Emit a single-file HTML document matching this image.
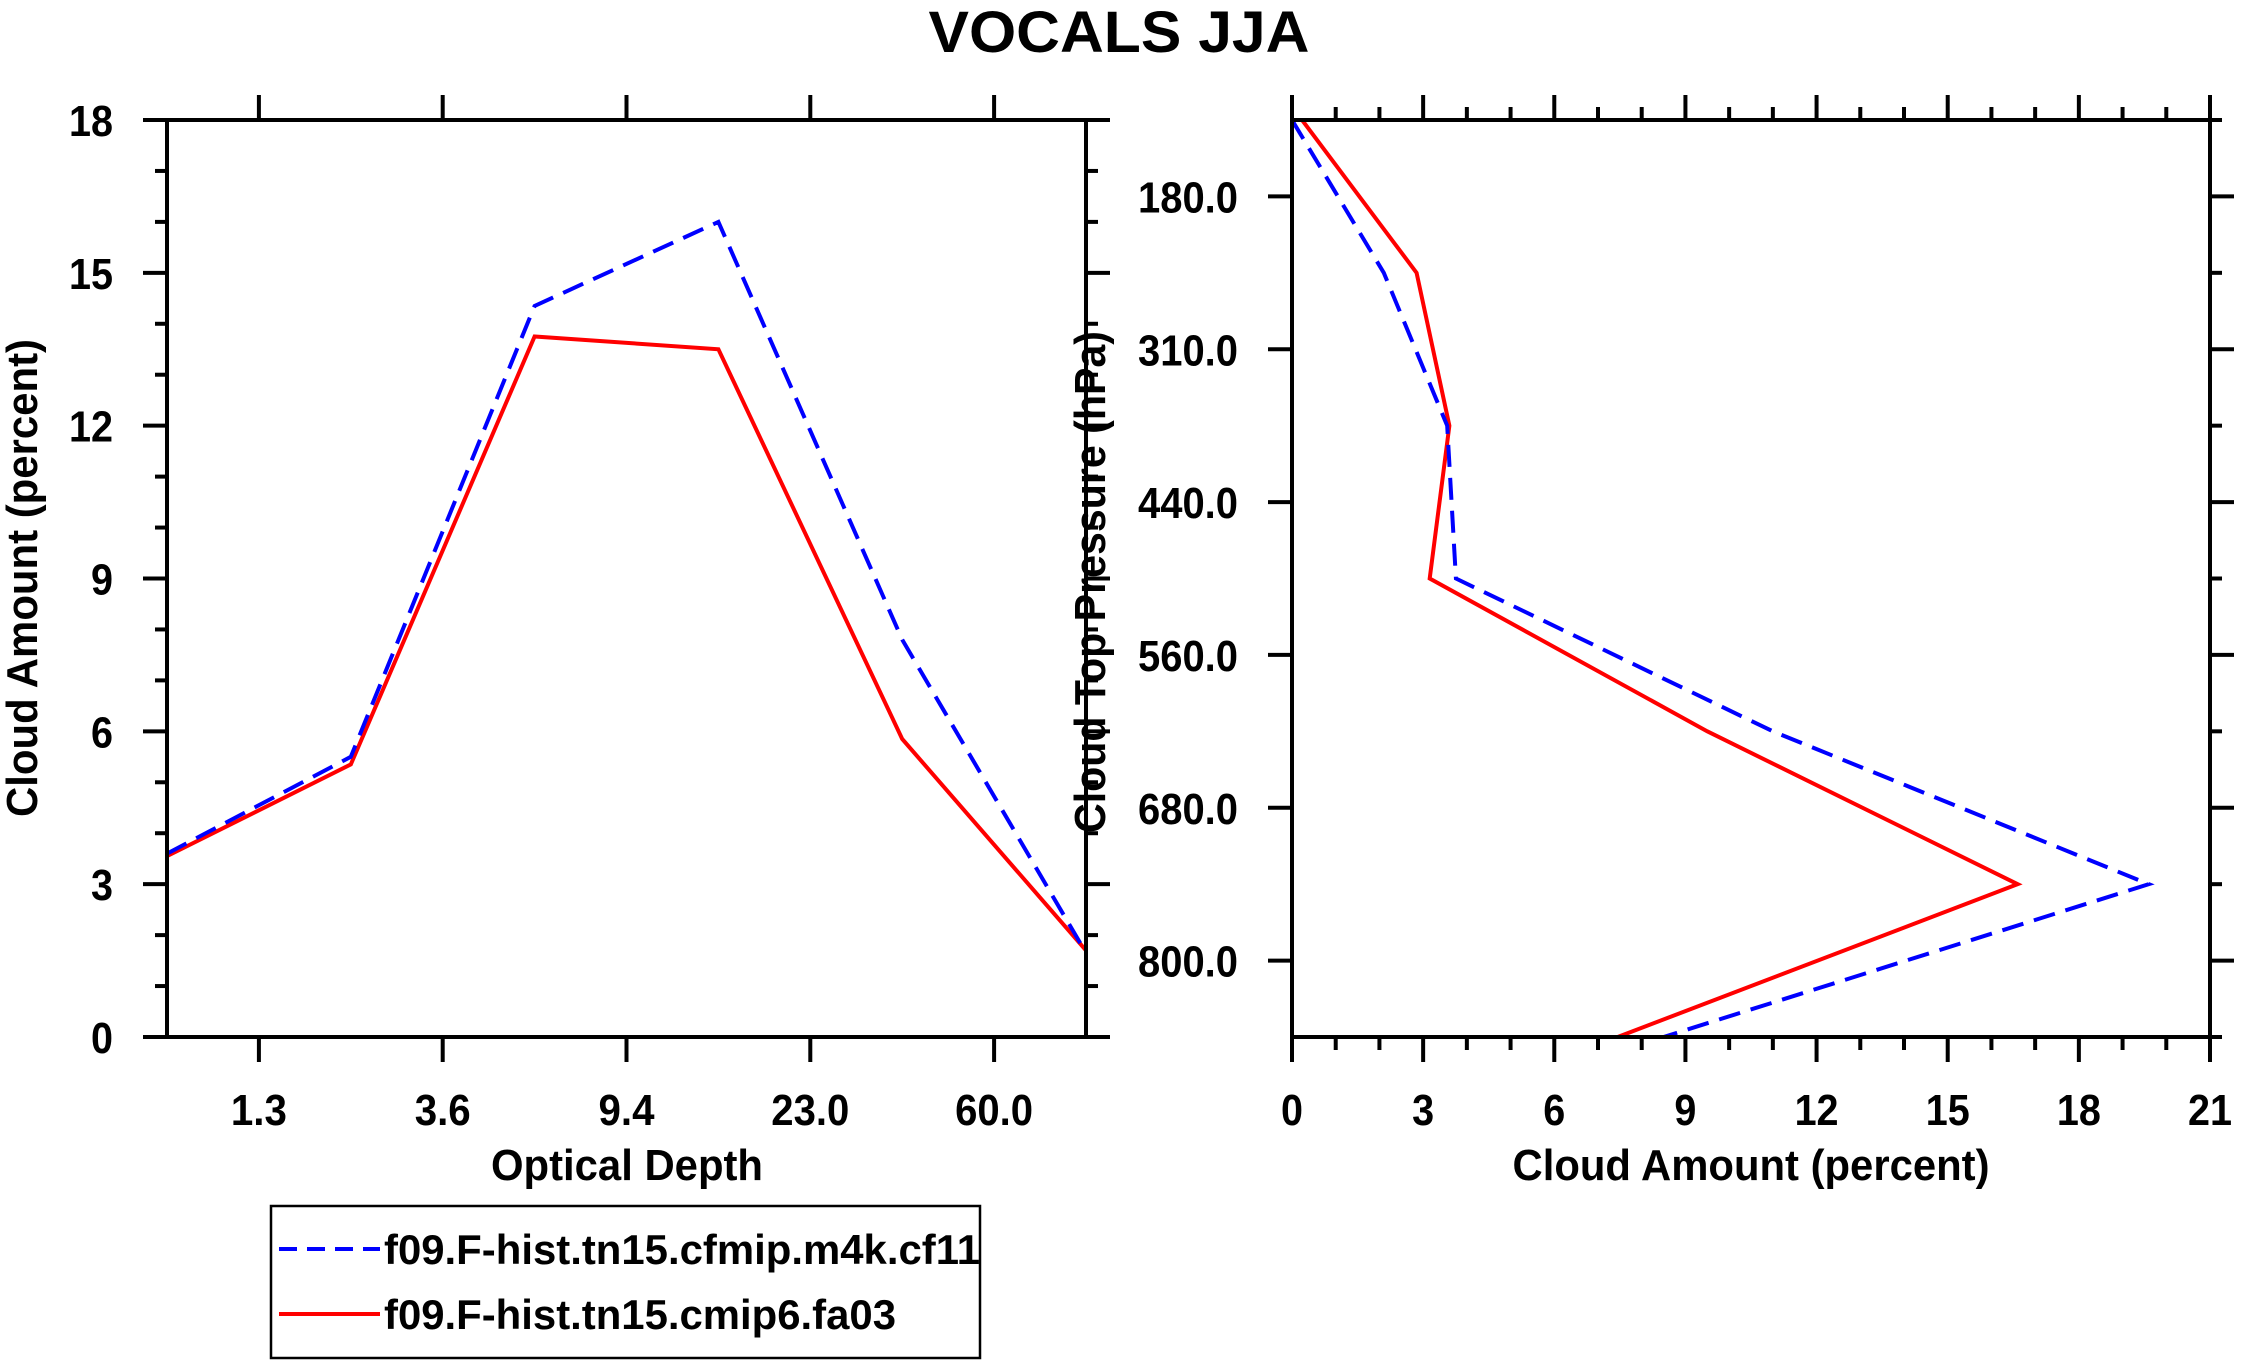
<!DOCTYPE html>
<html><head><meta charset="utf-8"><style>
html,body{margin:0;padding:0;background:#fff;}
svg{display:block;font-family:"Liberation Sans",sans-serif;font-weight:bold;}
</style></head><body>
<svg id="c" width="2241" height="1367" viewBox="0 0 2241 1367" xmlns="http://www.w3.org/2000/svg">
<text x="1119" y="52" text-anchor="middle" font-size="58" textLength="381" lengthAdjust="spacingAndGlyphs">VOCALS JJA</text>
<g id="left"></g>
<g id="right"></g>
<g>
<rect x="271" y="1206" width="709" height="152" fill="none" stroke="#000" stroke-width="2.5"/>
<line x1="279" y1="1249" x2="380" y2="1249" stroke="#0000ff" stroke-width="4" stroke-dasharray="18,10"/>
<text x="384" y="1264" font-size="42" textLength="596" lengthAdjust="spacingAndGlyphs">f09.F-hist.tn15.cfmip.m4k.cf11</text>
<line x1="279" y1="1314" x2="380" y2="1314" stroke="#ff0000" stroke-width="4"/>
<text x="384" y="1329" font-size="42" textLength="512" lengthAdjust="spacingAndGlyphs">f09.F-hist.tn15.cmip6.fa03</text>
</g>
</svg>
<script>
// Left panel data
const odTickLabels = ["1.3","3.6","9.4","23.0","60.0"];
const odBlue = [3.6, 5.5, 14.35, 16.0, 7.8, 1.65];
const odRed = [3.55, 5.35, 13.75, 13.5, 5.85, 1.7];
const leftYTicks = [0,3,6,9,12,15,18];
// Right panel data
const ctpTickLabels = ["180.0","310.0","440.0","560.0","680.0","800.0"];
const ctpBlue = [0, 2.1, 3.55, 3.75, 11.0, 19.6, 8.5];
const ctpRed = [0.23, 2.85, 3.6, 3.15, 9.5, 16.6, 7.45];
const rightXTicks = [0,3,6,9,12,15,18,21];

const NS="http://www.w3.org/2000/svg";
function mk(parent,tag,attrs){const e=document.createElementNS(NS,tag);for(const k in attrs)e.setAttribute(k,attrs[k]);parent.appendChild(e);return e;}
function tw(s){let w=0;for(const ch of String(s))w+=(ch==='.'?12:22);return w;}
function label(g,x,y,s,anchor,name){
  const t=mk(g,'text',{x:x,y:y,'text-anchor':anchor,'font-size':44,textLength:tw(s),lengthAdjust:'spacingAndGlyphs'});
  t.textContent=s;
  
  
  return t;}

// LEFT
const L={x0:167,x1:1086,y0:120,y1:1037};
const lx=i=>L.x0+(L.x1-L.x0)*i/5;
const ly=v=>L.y1-(L.y1-L.y0)*v/18;
const lg=document.getElementById('left');
const ticksL=mk(lg,'g',{stroke:'#000','stroke-width':4});


for(let v=0;v<=18;v++){const maj=v%3===0;const len=maj?24:12;
  mk(ticksL,'line',{x1:L.x0-len,y1:ly(v),x2:L.x0,y2:ly(v)});
  mk(ticksL,'line',{x1:L.x1,y1:ly(v),x2:L.x1+len,y2:ly(v)});}
odTickLabels.forEach((t,i)=>{const x=lx(i+0.5);
  mk(ticksL,'line',{x1:x,y1:L.y1,x2:x,y2:L.y1+25});
  mk(ticksL,'line',{x1:x,y1:L.y0-25,x2:x,y2:L.y0});
  label(lg,x,1125,t,'middle','x-tick-label-od');});
leftYTicks.forEach(v=>{label(lg,113,ly(v)+16,String(v),'end','y-tick-label-left');});
function series(g,arr,fx,fy,color,dash,name){
  const pts=arr.map((v,i)=>fx(i,v)+','+fy(i,v)).join(' ');
  const p=mk(g,'polyline',{points:pts,fill:'none',stroke:color,'stroke-width':4,'stroke-linejoin':'miter'});
  if(dash)p.setAttribute('stroke-dasharray','22,11');
  
  }
series(lg,odRed,(i)=>lx(i),(i,v)=>ly(v),'#ff0000',false,'series-fa03-od');
series(lg,odBlue,(i)=>lx(i),(i,v)=>ly(v),'#0000ff',true,'series-cf11-od');
const frL=mk(lg,'rect',{x:L.x0,y:L.y0,width:L.x1-L.x0,height:L.y1-L.y0,fill:'none',stroke:'#000','stroke-width':4});


let t1=mk(lg,'text',{x:627,y:1180,'text-anchor':'middle','font-size':44,textLength:272,lengthAdjust:'spacingAndGlyphs'});t1.textContent='Optical Depth';


let t2=mk(lg,'text',{x:0,y:0,'text-anchor':'middle','font-size':44,textLength:478,lengthAdjust:'spacingAndGlyphs',transform:'translate(37,578) rotate(-90)'});t2.textContent='Cloud Amount (percent)';



// RIGHT
const R={x0:1292,x1:2210,y0:120,y1:1037};
const rx=v=>R.x0+(R.x1-R.x0)*v/21;
const ry=i=>R.y0+(R.y1-R.y0)*i/6;
const rg=document.getElementById('right');
const ticksR=mk(rg,'g',{stroke:'#000','stroke-width':4});


for(let v=0;v<=21;v++){const maj=v%3===0;const len=maj?25:13;
  mk(ticksR,'line',{x1:rx(v),y1:R.y1,x2:rx(v),y2:R.y1+len});
  mk(ticksR,'line',{x1:rx(v),y1:R.y0-len,x2:rx(v),y2:R.y0});}
for(let i=0;i<=12;i++){const maj=i%2===1;const len=maj?24:12;const y=R.y0+(R.y1-R.y0)*i/12;
  if(maj)mk(ticksR,'line',{x1:R.x0-len,y1:y,x2:R.x0,y2:y});
  mk(ticksR,'line',{x1:R.x1,y1:y,x2:R.x1+len,y2:y});}
rightXTicks.forEach(v=>{label(rg,rx(v),1125,String(v),'middle','x-tick-label-right');});
ctpTickLabels.forEach((t,i)=>{label(rg,1238,ry(i+0.5)+16,t,'end','y-tick-label-ctp');});
series(rg,ctpRed,(i,v)=>rx(v),(i)=>ry(i),'#ff0000',false,'series-fa03-ctp');
series(rg,ctpBlue,(i,v)=>rx(v),(i)=>ry(i),'#0000ff',true,'series-cf11-ctp');
const frR=mk(rg,'rect',{x:R.x0,y:R.y0,width:R.x1-R.x0,height:R.y1-R.y0,fill:'none',stroke:'#000','stroke-width':4});


let t3=mk(rg,'text',{x:1751,y:1180,'text-anchor':'middle','font-size':44,textLength:477,lengthAdjust:'spacingAndGlyphs'});t3.textContent='Cloud Amount (percent)';


let t4=mk(rg,'text',{x:0,y:0,'text-anchor':'middle','font-size':44,textLength:502,lengthAdjust:'spacingAndGlyphs',transform:'translate(1105,582) rotate(-90)'});t4.textContent='Cloud Top Pressure (hPa)';


</script>
</body></html>
